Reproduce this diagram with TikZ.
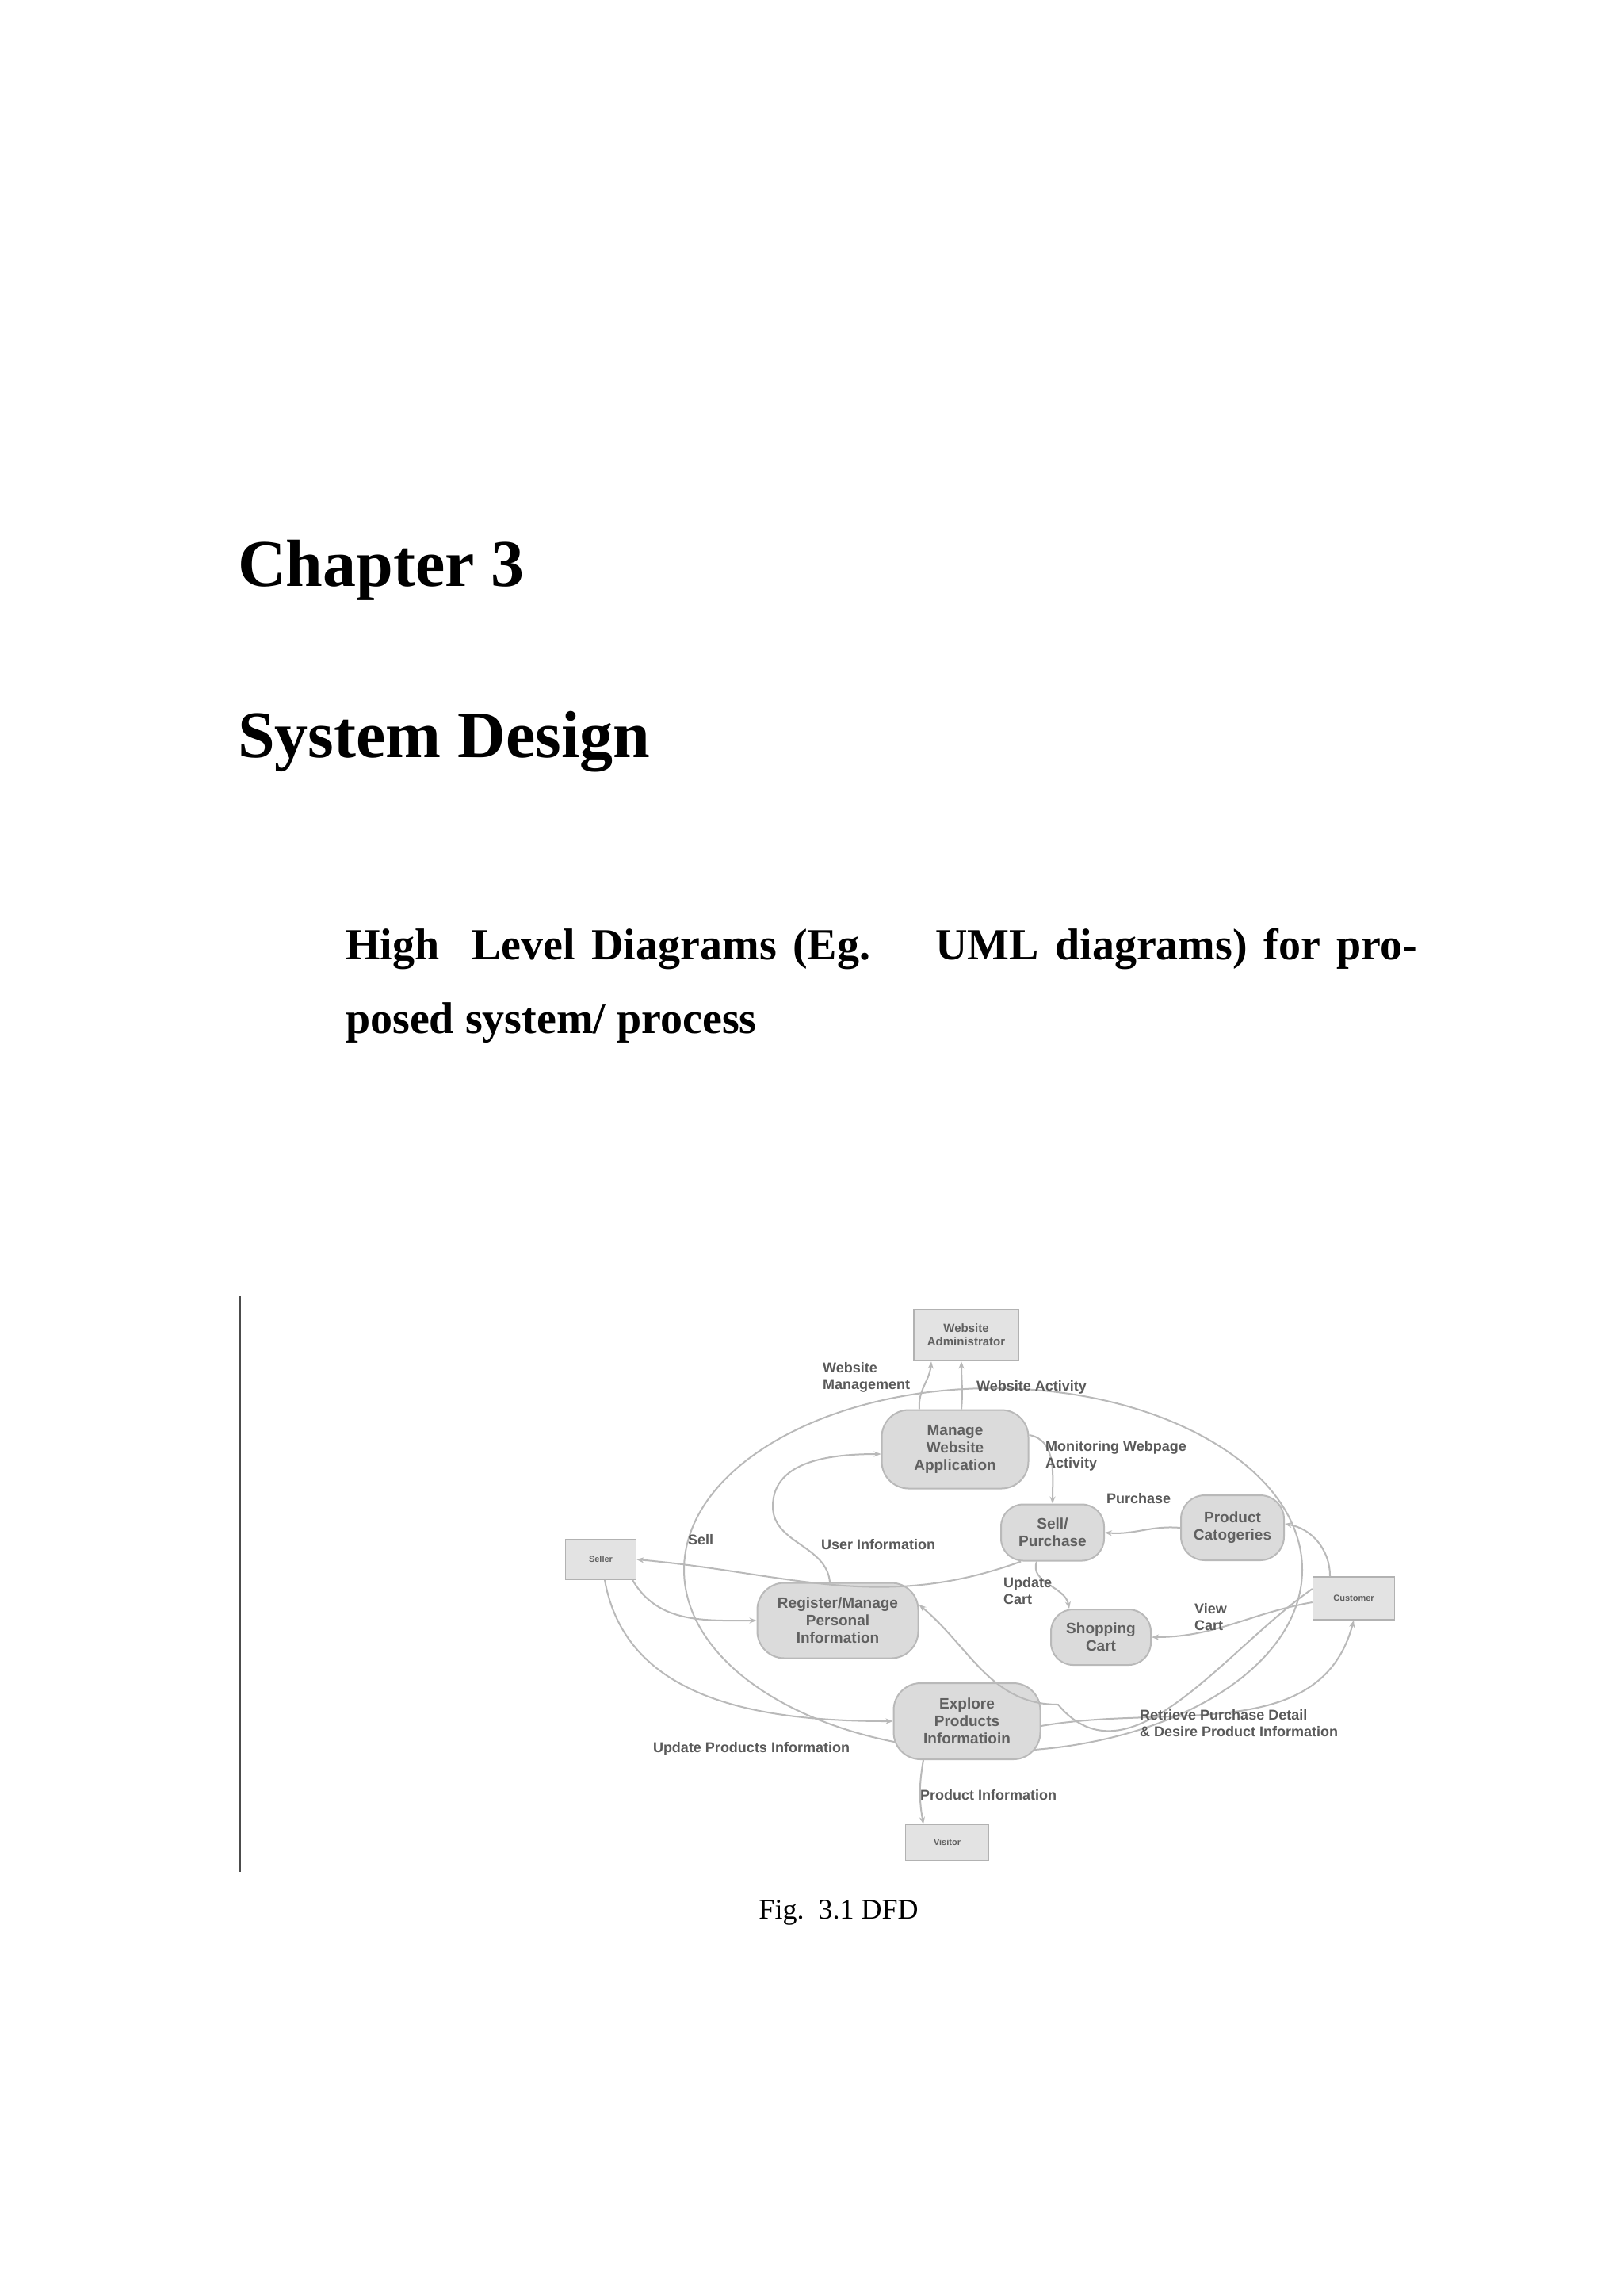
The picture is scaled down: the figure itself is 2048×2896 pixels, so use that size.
\documentclass[tikz,border=0pt]{standalone}
\usepackage{fontspec}
\setmainfont{Liberation Serif}
\newfontfamily\dfdfont{Liberation Sans}
\usetikzlibrary{arrows.meta,shapes.geometric}
\begin{document}
\begin{tikzpicture}[x=1pt,y=-1pt,
  ent/.style={draw=gray!60,fill=gray!22,line width=1.5pt,minimum width=#1,minimum height=56pt,font=\dfdfont\fontsize{15}{17}\selectfont\bfseries,text=gray!75!black,align=center},
  ent/.default=100pt,
  proc/.style={draw=gray!55,fill=gray!28,line width=2pt,rounded corners=34pt,align=center,font=\dfdfont\fontsize{19}{22}\selectfont\bfseries,text=gray!75!black},
  lbl/.style={font=\dfdfont\fontsize{18}{21}\selectfont\bfseries,text=gray!70!black,align=left,inner sep=1pt},
  flow/.style={draw=gray!55,line width=2pt,-{Stealth[length=9pt,width=7pt]}},
  heading/.style={anchor=base west,inner sep=0pt,font=\fontsize{84}{100}\selectfont\bfseries}]
\useasboundingbox (0,0) rectangle (2048,2896);
\fill[white] (0,0) rectangle (2048,2896);
% headings
\node[heading] (ch) at (300,739) {Chapter 3};
\node[heading] (sd) at (300,955) {System Design};
\node[anchor=base west,inner sep=0pt,font=\fontsize{56}{66}\selectfont\bfseries] (h1) at (436,1210) {\makebox[1352pt][s]{High\ \ Level Diagrams (Eg.\ \ \ \ UML diagrams) for pro-}};
\node[anchor=base west,inner sep=0pt,font=\fontsize{56}{66}\selectfont\bfseries] (h2) at (436,1303) {posed system/ process};
\node[anchor=base,inner sep=0pt,font=\fontsize{36}{42}\selectfont] (cap) at (1058,2420) {Fig.\ \ 3.1 DFD};
\draw[line width=3pt,black!70] (302,1635) -- (302,2361);
% big ellipse
\node[draw=gray!55,line width=2pt,ellipse,minimum width=780pt,minimum height=458pt] (ell) at (1253,1980) {};
% entities
\node[ent=132pt,minimum height=65pt] (adm) at (1219,1684) {Website\\Administrator};
\node[ent=89pt,minimum height=50pt,font=\dfdfont\fontsize{11}{13}\selectfont\bfseries] (sel) at (758,1967) {Seller};
\node[ent=103pt,minimum height=54pt,font=\dfdfont\fontsize{11}{13}\selectfont\bfseries] (cus) at (1708,2016) {Customer};
\node[ent=105pt,minimum height=45pt,font=\dfdfont\fontsize{11}{13}\selectfont\bfseries] (vis) at (1195,2324) {Visitor};
% processes
\node[proc,minimum width=185pt,minimum height=99pt] (man) at (1205,1828) {Manage\\Website\\Application};
\node[proc,minimum width=130pt,minimum height=71pt,rounded corners=28pt] (sp) at (1328,1933) {Sell/\\Purchase};
\node[proc,minimum width=130pt,minimum height=82pt,rounded corners=30pt] (pc) at (1555,1927) {Product\\Catogeries};
\node[proc,minimum width=203pt,minimum height=95pt] (reg) at (1057,2044) {Register/Manage\\Personal\\Information};
\node[proc,minimum width=126pt,minimum height=70pt,rounded corners=28pt] (cart) at (1389,2065) {Shopping\\Cart};
\node[proc,minimum width=185pt,minimum height=96pt] (exp) at (1220,2171) {Explore\\Products\\Informatioin};
% flows
\draw[flow] ([xshift=-45pt]man.north) to[out=95,in=-95] ([xshift=-44pt]adm.south);
\draw[flow] ([xshift=8pt]man.north) to[out=85,in=-90] ([xshift=-6pt]adm.south);
\draw[flow] ([yshift=18pt]man.east) to[out=-10,in=90] (sp.north);
\draw[flow] (pc.west) to[out=175,in=-5] (sp.east);
\draw[flow] ([xshift=-40pt]sp.south) to[out=200,in=-5] (sel.east);
\draw[flow] ([xshift=-10pt]reg.north) to[out=95,in=-90] (975,1900) to[out=90,in=180] ([yshift=-6pt]man.west);
\draw[flow] ([xshift=40pt]sel.south) to[out=-60,in=180] (reg.west);
\draw[flow] ([xshift=5pt]sel.south) to[out=-80,in=180] (exp.west);
\draw[flow] ([xshift=-20pt]sp.south) to[out=-110,in=100] ([xshift=-40pt]cart.north);
\draw[flow] ([yshift=-5pt]cus.west) to[out=190,in=0] (cart.east);
\draw[flow] ([xshift=-30pt]cus.north) to[out=90,in=-10] ([yshift=5pt]pc.east);
\draw[flow] ([yshift=12pt]cus.west) to[out=215,in=-50] (1335,2150) to[out=180,in=-40] ([yshift=20pt]reg.east);
\draw[flow] ([yshift=-6pt]exp.east) to[out=10,in=-105] (cus.south);
\draw[flow] ([xshift=-55pt]exp.south) to[out=-100,in=100] ([xshift=-30pt]vis.north);
% labels
\node[lbl,anchor=west] (l1) at (1037,1737) {Website\\Management};
\node[lbl,anchor=west] (l2) at (1231,1750) {Website Activity};
\node[lbl,anchor=west] (l3) at (1318,1836) {Monitoring Webpage\\Activity};
\node[lbl,anchor=west] (l4) at (1395,1890) {Purchase};
\node[lbl] (l5) at (884,1942) {Sell};
\node[lbl] (l6) at (1108,1948) {User Information};
\node[lbl,anchor=west] (l7) at (1265,2007) {Update\\Cart};
\node[lbl,anchor=west] (l8) at (1506,2040) {View\\Cart};
\node[lbl,anchor=west] (l9) at (1437,2174) {Retrieve Purchase Detail\\\& Desire Product Information};
\node[lbl] (l10) at (948,2206) {Update Products Information};
\node[lbl,anchor=west] (l11) at (1160,2264) {Product Information};
\end{tikzpicture}
\end{document}
